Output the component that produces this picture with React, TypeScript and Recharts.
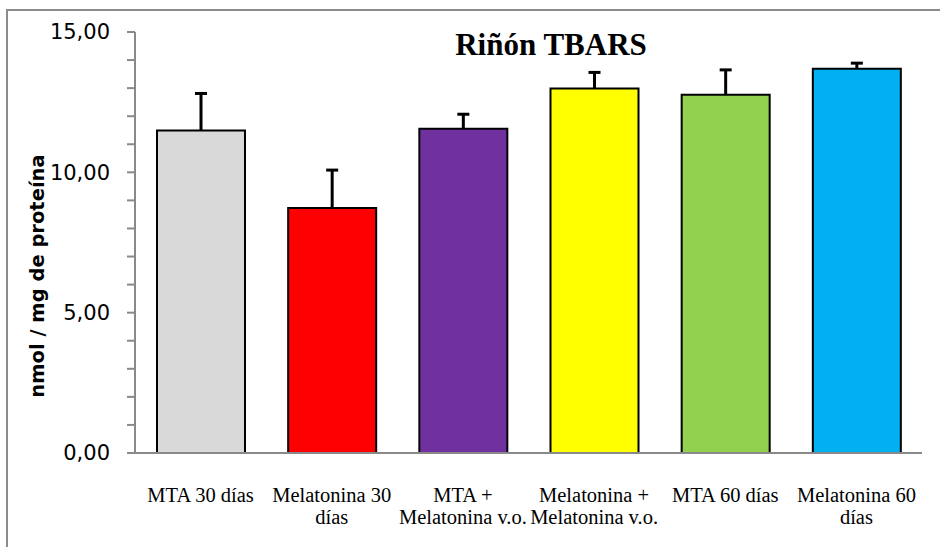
import React from 'react';
import { BarChart, Bar, XAxis, YAxis, Cell, Label } from 'recharts';

// Riñón TBARS, nmol / mg de proteína
const categories = [
  'MTA 30 días',
  'Melatonina 30\ndías',
  'MTA +\nMelatonina v.o.',
  'Melatonina +\nMelatonina v.o.',
  'MTA 60 días',
  'Melatonina 60\ndías',
];
const means = [11.49, 8.73, 11.55, 12.99, 12.76, 13.69];
const errors = [1.32, 1.35, 0.52, 0.57, 0.89, 0.2];
const colors = ['#D9D9D9', '#FF0000', '#7030A0', '#FFFF00', '#92D050', '#00B0F0'];
const yTicks = [0, 1, 2, 3, 4, 5, 6, 7, 8, 9, 10, 11, 12, 13, 14, 15];

const data = categories.map((name, i) => ({
  name,
  value: means[i],
  err: errors[i],
}));

const AXIS_GRAY = '#898989';

const CategoryTick = ({ x, y, payload }: any) => {
  const lines = String(payload.value).split('\n');
  return (
    <text
      x={x}
      y={y}
      textAnchor="middle"
      fill="#000"
      style={{ fontFamily: '"Liberation Serif", "Times New Roman", serif', fontSize: '20.5px' }}
    >
      {lines.map((line, i) => (
        <tspan key={i} x={x} dy={i === 0 ? 41 : 22}>
          {line}
        </tspan>
      ))}
    </text>
  );
};

// upper error whisker only, stacked on top of the mean bar
const Whisker = ({ x, y, width, height }: any) => {
  const cx = x + width / 2;
  return (
    <g>
      <line x1={cx} x2={cx} y1={y + height} y2={y} stroke="#000" strokeWidth={3} />
      <line x1={cx - 6} x2={cx + 6} y1={y} y2={y} stroke="#000" strokeWidth={3} />
    </g>
  );
};

const formatTick = (v: number) => (v % 5 === 0 ? v.toFixed(2).replace('.', ',') : '');

export default function App() {
  return (
    <div
      style={{
        position: 'absolute',
        left: 0,
        top: 0,
        width: 940,
        height: 547,
        overflow: 'hidden',
        background: '#fff',
      }}
    >
      <div
        style={{
          position: 'absolute',
          left: 6,
          top: 9,
          width: 960,
          height: 560,
          border: '2px solid #8c8c8c',
        }}
      />
      <div
        style={{
          position: 'absolute',
          left: 351,
          width: 400,
          top: 27,
          textAlign: 'center',
          fontFamily: '"Liberation Serif", "Times New Roman", serif',
          fontWeight: 'bold',
          fontSize: 31,
          lineHeight: '35px',
        }}
      >
        Riñón TBARS
      </div>
      <BarChart
        width={940}
        height={547}
        data={data}
        margin={{ top: 32, right: 18, bottom: 0, left: 75 }}
        style={{ position: 'absolute', left: 0, top: 0 }}
      >
        <XAxis
          dataKey="name"
          interval={0}
          tickLine={false}
          axisLine={{ stroke: AXIS_GRAY, strokeWidth: 2 }}
          tick={<CategoryTick />}
          height={94}
        />
        <YAxis
          width={60}
          domain={[0, 15]}
          ticks={yTicks}
          interval={0}
          tickSize={8}
          tickMargin={17}
          tickFormatter={formatTick}
          axisLine={{ stroke: AXIS_GRAY, strokeWidth: 2 }}
          tickLine={{ stroke: AXIS_GRAY, strokeWidth: 2 }}
          tick={{ fill: '#000', fontSize: 21, fontFamily: '"DejaVu Sans", sans-serif' }}
        >
          <Label
            content={() => (
              <text
                x={37}
                y={276}
                transform="rotate(-90 37 276)"
                textAnchor="middle"
                dominantBaseline="central"
                fill="#000"
                style={{ fontFamily: '"DejaVu Sans", sans-serif', fontWeight: 'bold', fontSize: '19.5px' }}
              >
                nmol / mg de proteína
              </text>
            )}
          />
        </YAxis>
        <Bar dataKey="value" stackId="a" barSize={88} stroke="#000" strokeWidth={2} isAnimationActive={false}>
          {data.map((d, i) => (
            <Cell key={d.name} fill={colors[i]} />
          ))}
        </Bar>
        <Bar dataKey="err" stackId="a" barSize={88} shape={<Whisker />} isAnimationActive={false} />
      </BarChart>
    </div>
  );
}
